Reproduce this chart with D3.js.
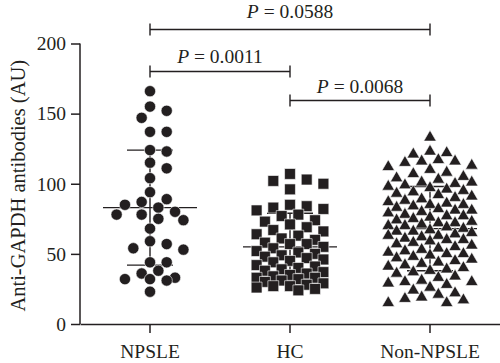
<!DOCTYPE html>
<html>
<head>
<meta charset="utf-8">
<script src="https://cdn.jsdelivr.net/npm/d3@7"></script>
<style>
  body { margin: 0; background: #fff; }
  svg text { font-family: "Liberation Serif", "Times New Roman", serif; fill: #231f20; }
</style>
</head>
<body>
<svg width="500" height="363"></svg>
<script>
// values (AU)
var categories = ["NPSLE", "HC", "Non-NPSLE"];
var npsle = [166, 155, 152, 147, 137, 137, 124, 123, 115, 111, 104, 94, 89, 87, 85, 83, 80, 78, 78, 75,
    74, 68, 59, 57, 54, 53, 44, 44, 38, 36, 33, 32, 32, 31, 23];
var hc = [107, 103, 102, 100, 96, 85, 84, 83, 82, 81, 78, 77, 74, 73, 71, 69, 67, 66, 64, 63,
    61, 60, 58, 57, 57, 55, 54, 52, 51, 50, 49, 48, 47, 46, 45, 44, 42, 41, 40, 39,
    38, 37, 36, 35, 34, 33, 33, 32, 31, 30, 29, 28, 27, 27, 26, 25, 24];
var nonNpsle = [133, 123, 122, 121, 117, 116, 116, 115, 113, 112, 110, 108, 107, 105, 104, 103, 101, 101, 100,
    99, 98, 97, 96, 95, 94, 93, 92, 91, 90, 89, 88, 87, 86, 85, 85, 84, 83, 82, 81, 81, 80,
    79, 78, 77, 77, 76, 75, 74, 73, 72, 72, 71, 70, 70, 69, 68, 67, 66, 66, 65, 64, 63, 63, 62, 61, 60, 60,
    59, 58, 57, 56, 55, 54, 53, 52, 51, 50, 50, 49, 48, 47, 46, 45, 44, 43, 42, 41, 40,
    39, 38, 37, 36, 34, 33, 31, 30, 30, 29, 28, 26, 24, 22, 21, 19, 18, 17, 15, 15];
var groupMeans = [83, 55, 68];
var groupSDs = [41, 24, 30];
var yTicks = [0, 50, 100, 150, 200];
var comparisons = [
    {a: "NPSLE", b: "Non-NPSLE", p: "0.0588"},
    {a: "NPSLE", b: "HC", p: "0.0011"},
    {a: "HC", b: "Non-NPSLE", p: "0.0068"}
];

var ink = "#231f20";
var svg = d3.select("svg");

var y = d3.scaleLinear().domain([0, 200]).range([324, 43.5]);
var x = d3.scaleBand().domain(categories).range([80, 500]);
function cx(c) { return x(c) + x.bandwidth() / 2; }

// axes
var yAxis = svg.append("g")
    .attr("transform", "translate(80,0)")
    .call(d3.axisLeft(y).tickValues(yTicks).tickSize(9).tickSizeOuter(0).tickPadding(5));
var xAxis = svg.append("g")
    .attr("transform", "translate(0,324)")
    .call(d3.axisBottom(x).tickSize(9).tickSizeOuter(0).tickPadding(11));
[yAxis, xAxis].forEach(function (g) {
    g.select(".domain").attr("stroke", ink).attr("stroke-width", 1.5);
    g.selectAll(".tick line").attr("stroke", ink).attr("stroke-width", 1.5);
    g.selectAll(".tick text").attr("font-size", 19.5).attr("font-family", "Liberation Serif").attr("fill", ink);
});
yAxis.select(".domain").attr("d", "M0," + y(200) + "V" + y(0));

svg.append("text")
    .attr("transform", "translate(25," + (y(100) + 2) + ") rotate(-90)")
    .attr("text-anchor", "middle")
    .attr("font-size", 20.5)
    .text("Anti-GAPDH antibodies (AU)");

// mean +/- SD bars (behind the points)
var bars = svg.append("g").attr("stroke", ink).attr("stroke-width", 1.4);
categories.forEach(function (c, i) {
    var m = groupMeans[i], s = groupSDs[i], xc = cx(c);
    bars.append("line").attr("x1", xc - 47).attr("x2", xc + 47).attr("y1", y(m)).attr("y2", y(m));
    bars.append("line").attr("x1", xc).attr("x2", xc).attr("y1", y(m - s)).attr("y2", y(m + s));
    bars.append("line").attr("x1", xc - 23).attr("x2", xc + 23).attr("y1", y(m + s)).attr("y2", y(m + s));
    bars.append("line").attr("x1", xc - 23).attr("x2", xc + 23).attr("y1", y(m - s)).attr("y2", y(m - s));
});

// simple column scatter layout
function swarm(values, xc, step, maxK, minD) {
    var placed = [];
    var offs = [0];
    for (var k = 1; k <= maxK; k++) { offs.push(k, -k); }
    values.slice().sort(function (a, b) { return b - a; }).forEach(function (v) {
        var py = y(v), best = xc, bestD = -1;
        for (var j = 0; j < offs.length; j++) {
            var px = xc + offs[j] * step, dmin = Infinity;
            placed.forEach(function (p) {
                var d = Math.hypot(p.x - px, p.y - py);
                if (d < dmin) dmin = d;
            });
            if (dmin >= minD) { best = px; break; }
            if (dmin > bestD) { bestD = dmin; best = px; }
        }
        placed.push({x: best, y: py, v: v});
    });
    return placed;
}

var groups = [
    {data: npsle, sym: d3.symbolCircle, size: 100, maxK: 4, minD: 11.5},
    {data: hc, sym: d3.symbolSquare, size: 118, maxK: 4, minD: 11.5},
    {data: nonNpsle, sym: d3.symbolTriangle, size: 68, maxK: 5, minD: 10.5}
];
groups.forEach(function (g, i) {
    var pts = swarm(g.data, cx(categories[i]), 8.35, g.maxK, g.minD);
    svg.append("g").selectAll("path")
        .data(pts)
        .enter().append("path")
        .attr("transform", function (d) { return "translate(" + d.x + "," + d.y + ")"; })
        .attr("d", d3.symbol().type(g.sym).size(g.size))
        .attr("fill", ink)
        .attr("stroke", "#fff")
        .attr("stroke-width", 0.6);
});

// significance brackets
var lineY = [29.5, 71.5, 100.5];
var textY = [18, 63, 93];
var brk = svg.append("g");
comparisons.forEach(function (c, i) {
    var x1 = cx(c.a), x2 = cx(c.b), ly = lineY[i];
    var g = brk.append("g").attr("stroke", ink).attr("stroke-width", 1.4);
    g.append("line").attr("x1", x1).attr("x2", x2).attr("y1", ly).attr("y2", ly);
    g.append("line").attr("x1", x1).attr("x2", x1).attr("y1", ly - 6).attr("y2", ly + 6);
    g.append("line").attr("x1", x2).attr("x2", x2).attr("y1", ly - 6).attr("y2", ly + 6);
    var t = brk.append("text")
        .attr("x", (x1 + x2) / 2)
        .attr("y", textY[i])
        .attr("text-anchor", "middle")
        .attr("font-size", 19.5);
    t.append("tspan").attr("font-style", "italic").text("P");
    t.append("tspan").text(" = " + c.p);
});
</script>
</body>
</html>
